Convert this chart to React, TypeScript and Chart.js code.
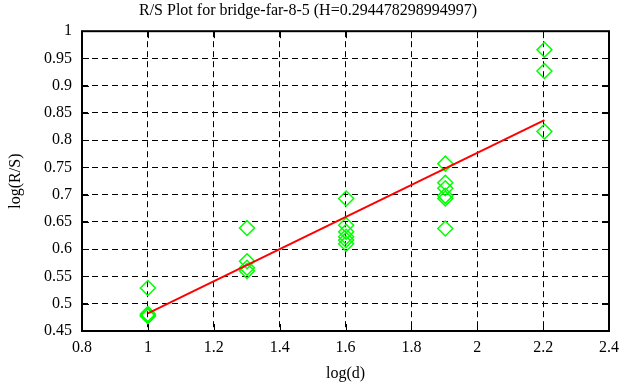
import React, { useEffect, useRef } from "react";
import { Chart, registerables } from "chart.js";

Chart.register(...registerables);

const titleText = "R/S Plot for bridge-far-8-5 (H=0.294478298994997)";
const xLabel = "log(d)";
const yLabel = "log(R/S)";

const logD = [1, 1.301, 1.602, 1.903, 2.204];
const rs1 = [0.529, 0.481, 0.479, 0.477];
const rs2 = [0.639, 0.578, 0.566, 0.560];
const rs3 = [0.693, 0.644, 0.632, 0.623, 0.617, 0.610];
const rs4 = [0.757, 0.722, 0.712, 0.698, 0.693, 0.638];
const rs5 = [0.966, 0.927, 0.816];
const rsGroups = [rs1, rs2, rs3, rs4, rs5];

const fitX = [1, 2.204];
const fitY = [0.4825, 0.837];

const xTicks = [0.8, 1, 1.2, 1.4, 1.6, 1.8, 2, 2.2, 2.4];
const yTicks = [0.45, 0.5, 0.55, 0.6, 0.65, 0.7, 0.75, 0.8, 0.85, 0.9, 0.95, 1];

const FONT = "'Liberation Serif', 'DejaVu Serif', serif";

const framePlugin = {
  id: "frame",
  afterDatasetsDraw(chart: any) {
    const { ctx, chartArea, scales } = chart;
    const { left, right, top, bottom } = chartArea;
    ctx.save();
    ctx.strokeStyle = "#000";
    ctx.lineWidth = 1;
    const tl = 7;
    ctx.beginPath();
    xTicks.forEach((v) => {
      const px = Math.round(scales.x.getPixelForValue(v)) + 0.5;
      ctx.moveTo(px, top);
      ctx.lineTo(px, top + tl);
      ctx.moveTo(px, bottom);
      ctx.lineTo(px, bottom - tl);
    });
    yTicks.forEach((v) => {
      const py = Math.round(scales.y.getPixelForValue(v)) + 0.5;
      ctx.moveTo(left, py);
      ctx.lineTo(left + tl, py);
      ctx.moveTo(right, py);
      ctx.lineTo(right - tl, py);
    });
    ctx.stroke();
    ctx.lineWidth = 2;
    ctx.strokeRect(left, top, right - left, bottom - top);
    ctx.restore();
  },
};

export default function App() {
  const ref = useRef<HTMLCanvasElement | null>(null);

  useEffect(() => {
    if (!ref.current) return;
    const points: { x: number; y: number }[] = [];
    rsGroups.forEach((g, i) => g.forEach((y) => points.push({ x: logD[i], y })));
    const fit = fitX.map((x, i) => ({ x, y: fitY[i] }));

    const chart = new Chart(ref.current, {
      type: "scatter",
      data: {
        datasets: [
          {
            type: "line",
            data: fit,
            borderColor: "#ff0000",
            borderWidth: 2,
            pointRadius: 0,
            showLine: true,
            fill: false,
          } as any,
          {
            data: points,
            pointStyle: "rectRot",
            pointRadius: 7.5,
            pointBorderColor: "#00ff00",
            pointBackgroundColor: "rgba(0,0,0,0)",
            pointBorderWidth: 1.5,
            showLine: false,
          } as any,
        ],
      },
      options: {
        animation: false,
        responsive: false,
        devicePixelRatio: 1,
        layout: { padding: { left: 6, right: 16, top: 0, bottom: 4 } },
        plugins: {
          legend: { display: false },
          tooltip: { enabled: false },
          title: {
            display: true,
            text: titleText,
            color: "#000",
            font: { family: FONT, size: 16, weight: "normal", lineHeight: 1.2 },
            padding: { top: 1, bottom: 11 },
          },
        },
        scales: {
          x: {
            type: "linear",
            min: 0.8,
            max: 2.4,
            afterBuildTicks: (axis: any) => {
              axis.ticks = xTicks.map((v) => ({ value: v }));
            },
            afterFit: (axis: any) => {
              axis.height = 52;
            },
            grid: { color: "#000", lineWidth: 1, drawTicks: false },
            border: { display: false, dash: [6, 4] },
            ticks: {
              color: "#000",
              padding: 7,
              font: { family: FONT, size: 16 },
              callback: (v: any) => String(Math.round(Number(v) * 100) / 100),
            },
            title: {
              display: true,
              text: xLabel,
              color: "#000",
              font: { family: FONT, size: 16 },
              padding: { top: 2, bottom: 0 },
            },
          },
          y: {
            type: "linear",
            min: 0.45,
            max: 1,
            afterBuildTicks: (axis: any) => {
              axis.ticks = yTicks.map((v) => ({ value: v }));
            },
            afterFit: (axis: any) => {
              axis.width = 76;
            },
            grid: { color: "#000", lineWidth: 1, drawTicks: false },
            border: { display: false, dash: [6, 4] },
            ticks: {
              color: "#000",
              padding: 10,
              font: { family: FONT, size: 16 },
              callback: (v: any) => String(Math.round(Number(v) * 100) / 100),
            },
            title: {
              display: true,
              text: yLabel,
              color: "#000",
              font: { family: FONT, size: 16 },
              padding: { top: 0, bottom: 0 },
            },
          },
        },
      },
      plugins: [framePlugin],
    } as any);
    return () => chart.destroy();
  }, []);

  return (
    <div style={{ position: "fixed", left: 0, top: 0, width: 626, height: 387, background: "#fff" }}>
      <canvas ref={ref} width={626} height={387} style={{ width: 626, height: 387 }} />
    </div>
  );
}
